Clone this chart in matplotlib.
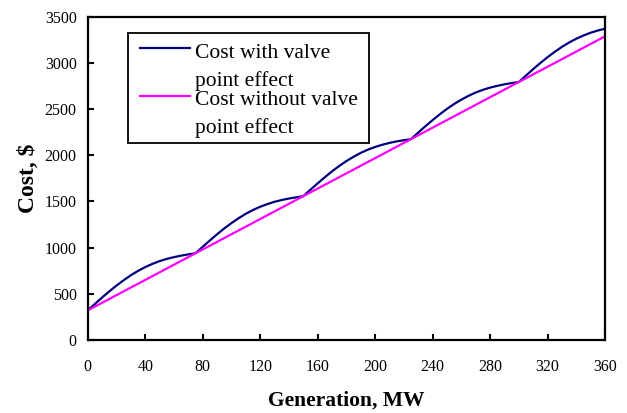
import numpy as np
import matplotlib.pyplot as plt
from matplotlib.patches import Rectangle

plt.rcParams['font.family'] = ['Liberation Serif', 'DejaVu Serif']

# generation, MW (read every 5 MW)
gen = list(range(0, 361, 5))
# cost with valve point effect, $
cost_valve = [320, 390, 460, 526, 589, 647, 701, 748, 789, 824, 854, 878, 897, 913, 927, 939,
              1009, 1078, 1145, 1208, 1266, 1319, 1367, 1408, 1443, 1472, 1497, 1516, 1532, 1545, 1558,
              1628, 1697, 1763, 1827, 1885, 1938, 1985, 2027, 2062, 2091, 2115, 2135, 2151, 2164, 2176,
              2247, 2316, 2382, 2445, 2504, 2557, 2604, 2645, 2681, 2710, 2734, 2753, 2770, 2783, 2795,
              2865, 2935, 3001, 3064, 3122, 3176, 3223, 3264, 3299, 3329, 3353, 3372]
# cost without valve point effect
gen_line = [0, 360]
cost_plain = [320, 3290]

labels = ['Cost with valve', 'point effect', 'Cost without valve', 'point effect']
navy = '#000080'
magenta = '#FF00FF'

fig = plt.figure(figsize=(6.27, 4.13), dpi=100)
ax = fig.add_axes([0.140, 0.177, 0.825, 0.782])

ax.plot(gen, cost_valve, color=navy, lw=1.6)
ax.plot(gen_line, cost_plain, color=magenta, lw=1.6)

ax.set_xlim(0, 360)
ax.set_ylim(0, 3500)
ax.set_xticks(np.arange(0, 361, 40))
ax.set_yticks(np.arange(0, 3501, 500))
ax.tick_params(direction='in', length=4, width=1.5, labelsize=11.5)
ax.tick_params(axis='y', pad=8)
ax.tick_params(axis='x', pad=14)
for s in ax.spines.values():
    s.set_linewidth(1.6)

ax.set_xlabel('Generation, MW', fontsize=15.5, fontweight='bold', labelpad=11)
ax.set_ylabel('Cost, $', fontsize=17, fontweight='bold', labelpad=4)

# legend box drawn by hand (entries wrap onto two lines)
box = Rectangle((0.0774, 0.610), 0.4661, 0.3405, transform=ax.transAxes,
                facecolor='white', edgecolor='black', lw=1.3, zorder=5)
ax.add_patch(box)
ax.plot([0.1006, 0.1973], [0.904, 0.904], transform=ax.transAxes, color=navy, lw=1.6, zorder=6)
ax.plot([0.1006, 0.1973], [0.7554, 0.7554], transform=ax.transAxes, color=magenta, lw=1.6, zorder=6)
for lab, yb in zip(labels, [0.8731, 0.7864, 0.7276, 0.6409]):
    ax.text(0.207, yb, lab, transform=ax.transAxes, fontsize=15.5, va='baseline',
            ha='left', zorder=7)

fig.savefig('out.png', dpi=100)
